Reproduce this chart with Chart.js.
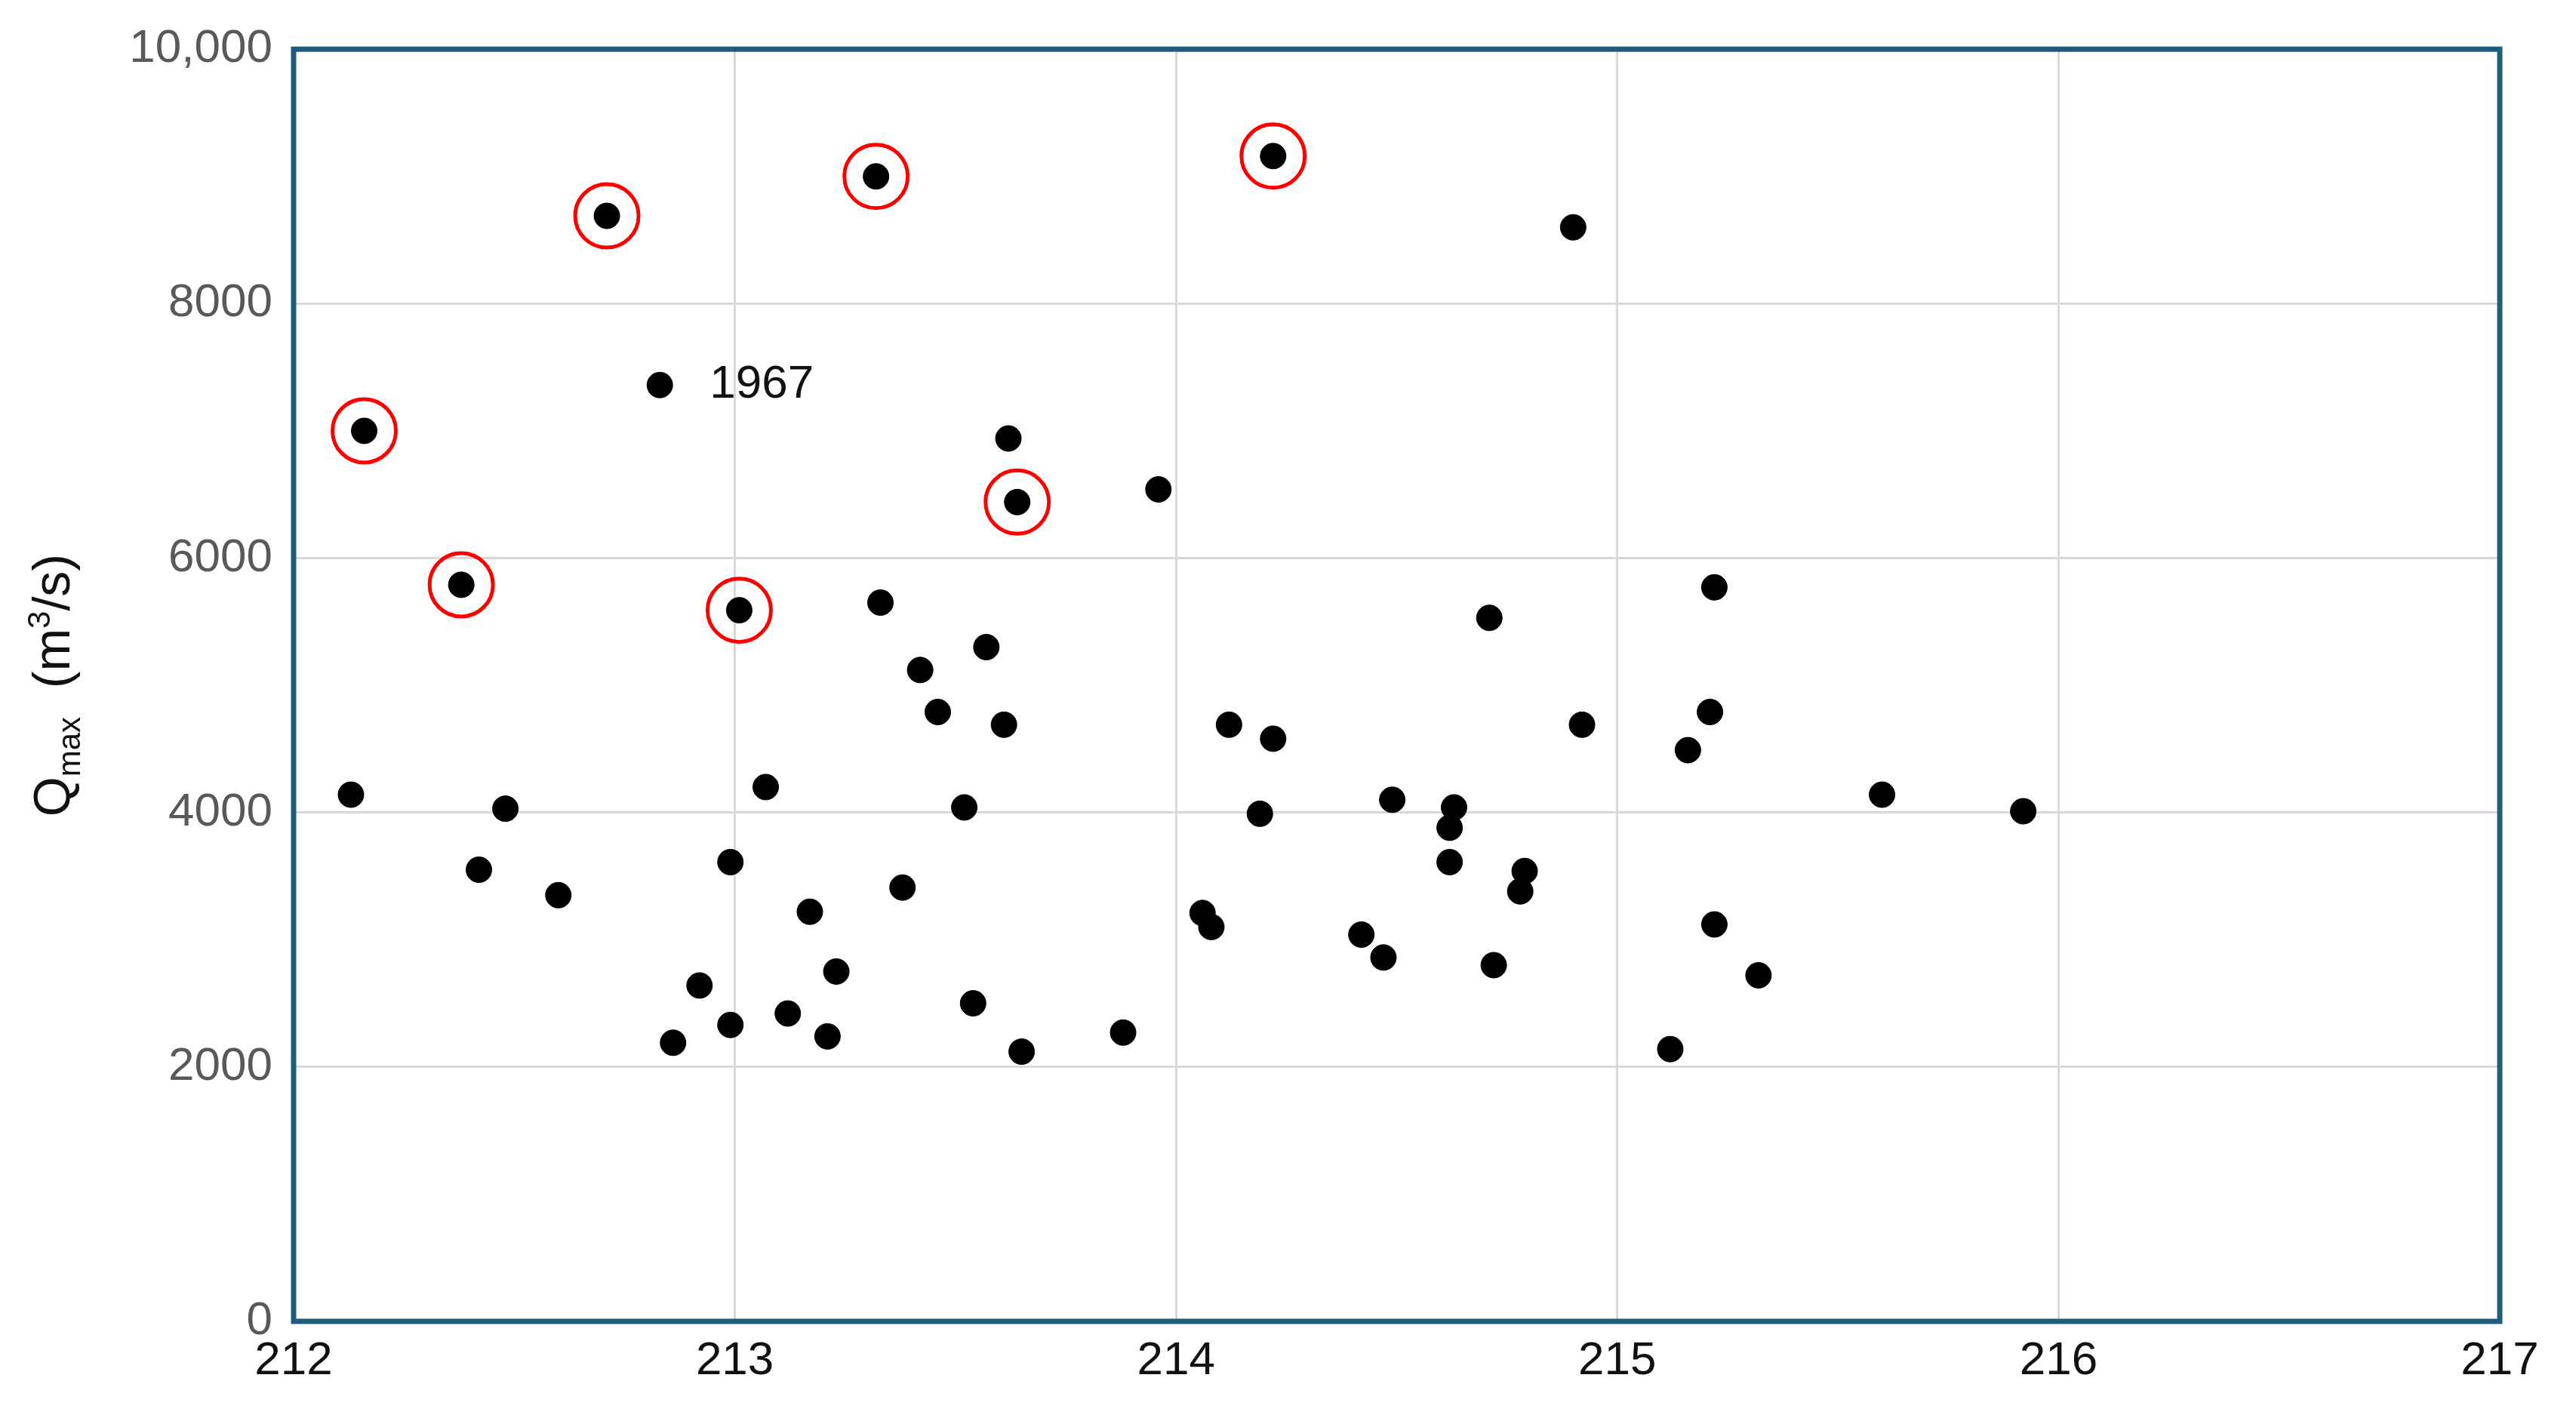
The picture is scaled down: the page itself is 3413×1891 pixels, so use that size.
<!DOCTYPE html>
<html><head><meta charset="utf-8">
<script src="https://cdn.jsdelivr.net/npm/chart.js@4"></script>
<style>html,body{margin:0;padding:0;background:#fff;overflow:hidden}#wrap{width:3413px;height:1891px}</style>
</head><body><div id="wrap"><canvas id="c"></canvas></div>
<script>
const pointX=[212.13,212.42,212.48,212.60,212.83,212.86,212.92,212.99,212.99,213.07,213.12,213.17,213.21,213.23,213.33,213.38,213.42,213.46,213.52,213.54,213.57,213.61,213.62,213.65,213.88,213.96,214.06,214.08,214.12,214.19,214.22,214.42,214.47,214.49,214.62,214.63,214.62,214.71,214.72,214.79,214.78,214.90,214.92,215.12,215.16,215.21,215.22,215.22,215.32,215.60,215.92];
const pointY=[4140,3550,4030,3350,7360,2190,2640,3610,2330,4200,2420,3220,2240,2750,5650,3410,5120,4790,4040,2500,5300,4690,6940,2120,2270,6540,3210,3100,4690,3990,4580,3040,2860,4100,3880,4040,3610,5530,2800,3540,3380,8600,4690,2140,4490,4790,5770,3120,2720,4140,4010];
const circledX=[212.16,212.38,212.71,213.01,213.32,213.64,214.22];
const circledY=[7000,5790,8690,5590,9000,6440,9160];
const labelText="1967", labelX=212.83, labelY=7360;
const xTicks=[212,213,214,215,216,217];
const yTicks=[0,2000,4000,6000,8000,10000];

const allX=pointX.concat(circledX), allY=pointY.concat(circledY);
const FONT='"Liberation Sans", Arial, sans-serif';
const overlay={id:'overlay',afterDraw(ch){
  const c=ch.ctx,a=ch.chartArea,xs=ch.scales.x,ys=ch.scales.y;
  c.save();
  c.strokeStyle='#1F5C7C';c.lineWidth=7;
  c.strokeRect(a.left,a.top,a.right-a.left,a.bottom-a.top);
  c.fillStyle='#111';c.font='62px '+FONT;c.textBaseline='middle';
  c.fillText(labelText,xs.getPixelForValue(labelX)+66,ys.getPixelForValue(labelY));
  c.translate(68,(a.top+a.bottom)/2);c.rotate(-Math.PI/2);
  c.fillStyle='#111';c.textBaseline='alphabetic';
  const parts=[['Q',68,0],['max',42,14],['  (m',68,0],['3',42,-26],['/s)',68,0]];
  let w=0;parts.forEach(p=>{c.font=p[1]+'px '+FONT;w+=c.measureText(p[0]).width;});
  let x=-w/2;
  parts.forEach(p=>{c.font=p[1]+'px '+FONT;c.fillText(p[0],x,24+p[2]);x+=c.measureText(p[0]).width;});
  c.restore();
}};
new Chart(document.getElementById('c'),{
  type:'scatter',
  data:{datasets:[
    {data:allX.map((v,i)=>({x:v,y:allY[i]})),backgroundColor:'#000',borderColor:'#000',pointRadius:17,pointHoverRadius:17},
    {data:circledX.map((v,i)=>({x:v,y:circledY[i]})),backgroundColor:'rgba(0,0,0,0)',borderColor:'#FF0000',borderWidth:5,pointRadius:42,pointHoverRadius:42}
  ]},
  options:{responsive:true,maintainAspectRatio:false,animation:false,
    layout:{padding:{top:-30,right:101,left:0,bottom:0}},
    plugins:{legend:{display:false},tooltip:{enabled:false}},
    scales:{
      x:{type:'linear',min:212,max:217,afterBuildTicks:s=>{s.ticks=xTicks.map(v=>({value:v}));},
        afterFit:s=>{s.height=140;},
        grid:{color:'#D9D9D9',lineWidth:3,drawTicks:false},border:{display:false},
        ticks:{font:{size:62,family:FONT},color:'#111',padding:16,maxRotation:0}},
      y:{min:0,max:10000,afterBuildTicks:s=>{s.ticks=yTicks.map(v=>({value:v}));},
        afterFit:s=>{s.width=389;},
        grid:{color:'#D9D9D9',lineWidth:3,drawTicks:false},border:{display:false},
        ticks:{font:{size:62,family:FONT},color:'#595959',padding:28,callback:v=>v===10000?'10,000':String(v)}}
    }},
  plugins:[overlay]
});
</script></body></html>
